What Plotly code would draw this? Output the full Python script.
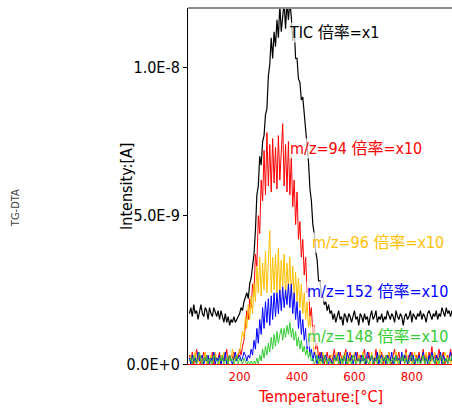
import plotly.graph_objects as go

# Temperature grid [°C], 5 °C steps
temperature = list(range(25, 945, 5))

# Ion currents in units of 1e-10 A (m/z traces already multiplied by 10)
tic = [
    17, 19, 16, 20, 17, 18, 15, 18, 20, 17, 16, 19, 18, 15, 19, 17, 16, 19, 17, 16,
    18, 15, 18, 16, 14, 17, 14, 16, 13, 15, 14, 16, 14, 15, 16, 17, 19, 18, 21, 23,
    24, 22, 27, 29, 34, 37, 45, 57, 60, 70, 67, 75, 77, 84, 86, 97, 101, 110, 103, 112,
    107, 116, 110, 121, 112, 119, 122, 113, 122, 116, 122, 117, 109, 114, 103, 103, 96, 95, 89, 90,
    84, 81, 73, 68, 59, 55, 47, 44, 38, 35, 28, 28, 23, 23, 20, 21, 18, 20, 17, 18,
    15, 17, 14, 16, 18, 15, 16, 13, 17, 16, 14, 17, 16, 14, 16, 18, 15, 16, 13, 17,
    16, 14, 17, 15, 16, 13, 16, 18, 15, 16, 18, 14, 16, 15, 17, 14, 16, 15, 18, 16,
    15, 17, 16, 14, 18, 16, 15, 17, 16, 13, 16, 17, 15, 16, 18, 14, 17, 16, 15, 17,
    16, 18, 15, 17, 16, 14, 17, 18, 16, 15, 17, 16, 18, 15, 17, 16, 19, 17, 16, 19,
    17, 18, 16, 18,
]
mz94 = [
    3, 1, 4, 0, 2, 5, 1, 3, 0, 2, 4, 1, 3, 0, 2, 1, 4, 0, 3, 1,
    2, 4, 0, 3, 1, 2, 5, 0, 3, 1, 2, 4, 1, 3, 2, 5, 3, 6, 8, 13,
    18, 15, 22, 19, 27, 24, 37, 33, 50, 44, 62, 55, 72, 57, 78, 60, 74, 58, 76, 61,
    73, 59, 77, 62, 72, 81, 60, 74, 58, 75, 57, 70, 53, 62, 47, 58, 42, 48, 36, 42,
    30, 36, 24, 26, 16, 19, 10, 13, 5, 7, 2, 4, 1, 3, 0, 2, 4, 1, 3, 0,
    2, 5, 1, 3, 0, 4, 2, 1, 3, 5, 0, 2, 4, 1, 3, 2, 0, 4, 1, 3,
    1, 3, 5, 0, 2, 4, 1, 3, 2, 0, 5, 1, 3, 2, 4, 0, 2, 3, 1, 4,
    2, 0, 3, 5, 1, 2, 4, 0, 3, 1, 2, 5, 0, 3, 1, 4, 2, 0, 3, 1,
    4, 1, 2, 5, 0, 3, 1, 4, 2, 6, 1, 3, 0, 2, 5, 1, 3, 4, 0, 2,
    3, 1, 5, 2,
]
mz96 = [
    1, 3, 0, 2, 4, 1, 2, 0, 3, 1, 2, 4, 0, 2, 1, 3, 0, 2, 4, 1,
    2, 0, 3, 1, 4, 2, 0, 3, 1, 2, 5, 1, 3, 2, 4, 4, 7, 11, 9, 16,
    12, 20, 15, 23, 17, 27, 21, 33, 24, 36, 23, 34, 25, 38, 24, 33, 45, 24, 36, 25,
    37, 24, 39, 23, 35, 26, 37, 22, 34, 25, 36, 23, 33, 22, 31, 21, 29, 19, 27, 17,
    24, 15, 21, 12, 16, 7, 9, 3, 4, 1, 3, 0, 2, 4, 1, 3, 0, 2, 1, 3,
    3, 0, 2, 4, 1, 2, 0, 3, 1, 4, 2, 0, 3, 1, 2, 4, 0, 2, 3, 1,
    2, 4, 0, 1, 3, 2, 0, 4, 1, 2, 3, 0, 2, 5, 1, 3, 0, 2, 1, 4,
    0, 2, 3, 1, 4, 0, 2, 1, 3, 2, 0, 4, 1, 2, 3, 0, 2, 4, 1, 3,
    2, 0, 3, 1, 2, 4, 1, 3, 0, 2, 1, 4, 2, 0, 3, 1, 2, 0, 4, 2,
    1, 3, 0, 2,
]
mz152 = [
    2, 0, 3, 1, 2, 0, 4, 1, 2, 3, 0, 2, 1, 3, 0, 2, 1, 4, 0, 2,
    1, 3, 0, 2, 1, 4, 0, 2, 3, 1, 0, 2, 4, 1, 2, 3, 1, 2, 4, 3,
    1, 3, 2, 5, 3, 8, 5, 12, 7, 15, 10, 19, 12, 21, 14, 22, 13, 23, 15, 24,
    16, 24, 17, 25, 18, 26, 19, 25, 20, 27, 19, 27, 17, 24, 15, 21, 12, 18, 10, 15,
    8, 12, 5, 9, 3, 5, 1, 4, 2, 0, 3, 1, 4, 0, 2, 3, 1, 0, 2, 1,
    0, 3, 1, 2, 4, 0, 2, 1, 3, 0, 4, 2, 1, 3, 0, 2, 4, 1, 2, 0,
    3, 1, 2, 0, 4, 2, 1, 3, 0, 2, 1, 4, 0, 2, 3, 1, 2, 0, 3, 2,
    1, 4, 0, 2, 3, 1, 2, 0, 4, 1, 3, 2, 0, 2, 4, 1, 3, 0, 2, 1,
    3, 0, 2, 4, 1, 2, 0, 3, 1, 4, 2, 0, 3, 1, 2, 4, 0, 3, 1, 2,
    0, 2, 4, 1,
]
mz148 = [
    1, 2, 0, 3, 1, 0, 2, 4, 1, 0, 2, 1, 3, 0, 2, 1, 0, 3, 2, 1,
    0, 2, 1, 3, 0, 1, 2, 0, 3, 1, 2, 0, 1, 3, 0, 2, 1, 0, 2, 1,
    0, 1, 0, 1, 0, 1, 0, 2, 0, 3, 1, 5, 2, 6, 3, 7, 4, 9, 5, 10,
    6, 11, 7, 10, 12, 8, 12, 9, 13, 10, 14, 9, 12, 8, 11, 6, 9, 5, 8, 4,
    6, 3, 5, 2, 4, 1, 2, 0, 1, 3, 0, 2, 1, 0, 3, 1, 0, 2, 1, 0,
    0, 2, 1, 3, 0, 1, 2, 0, 3, 1, 0, 2, 1, 0, 3, 2, 0, 1, 2, 0,
    1, 3, 0, 2, 1, 0, 2, 3, 0, 1, 2, 0, 3, 1, 0, 2, 1, 3, 0, 2,
    0, 1, 2, 0, 3, 1, 0, 2, 1, 3, 0, 2, 1, 0, 2, 3, 0, 1, 2, 0,
    2, 0, 1, 3, 0, 2, 1, 0, 2, 3, 1, 0, 2, 1, 0, 3, 2, 0, 1, 2,
    0, 2, 1, 3,
]

series_names = ["TIC", "m/z=94", "m/z=96", "m/z=152", "m/z=148"]
series_values = [tic, mz94, mz96, mz152, mz148]
series_colors = ["#000000", "#FF0000", "#FFC000", "#0000FF", "#33CC33"]
series_widths = [1.2, 1, 1, 1, 1]
series_labels = ["TIC 倍率=x1", "m/z=94 倍率=x10", "m/z=96 倍率=x10",
                 "m/z=152 倍率=x10", "m/z=148 倍率=x10"]
# label anchor (left edge temperature, intensity in A)
label_x = [368, 372, 449, 431, 431]
label_y = [11.16e-9, 7.25e-9, 4.11e-9, 2.43e-9, 0.94e-9]

y_ticks = [0.0, 5.0e-9, 1.0e-8]
x_ticks = [200, 400, 600, 800]
UNIT = 1e-10


def sci_label(v):
    if v == 0:
        return "0.0E+0"
    mant, exp = f"{v:.1E}".split("E")
    return f"{mant}E{int(exp)}"


LATIN = "'DejaVu Sans Condensed', 'DejaVu Sans', sans-serif"
MIXED = "'DejaVu Sans Condensed', 'DejaVu Sans', 'Noto Sans CJK JP', sans-serif"

fig = go.Figure()
for name, vals, col, w in zip(series_names, series_values, series_colors, series_widths):
    fig.add_trace(go.Scatter(
        x=temperature, y=[v * UNIT for v in vals], mode="lines", name=name,
        line=dict(color=col, width=w), hoverinfo="skip",
    ))

annotations = []
for text, col, lx, ly in zip(series_labels, series_colors, label_x, label_y):
    annotations.append(dict(
        x=lx, y=ly, xref="x", yref="y", text=text, showarrow=False,
        xanchor="left", yanchor="middle",
        font=dict(family=MIXED, size=16, color=col),
        bgcolor="rgba(255,255,255,0.7)", borderpad=0,
    ))

annotations += [
    dict(x=-0.235, y=0.5, xref="paper", yref="paper", text="Intensity:[A]",
         textangle=-90, showarrow=False, xanchor="center", yanchor="middle",
         font=dict(family=LATIN, size=16, color="#000000")),
    dict(x=0.5, y=-0.09, xref="paper", yref="paper", text="Temperature:[°C]",
         showarrow=False, xanchor="center", yanchor="middle",
         font=dict(family=LATIN, size=16, color="#FF0000")),
    dict(x=-0.655, y=0.438, xref="paper", yref="paper", text="TG-DTA",
         textangle=-90, showarrow=False, xanchor="center", yanchor="middle",
         font=dict(family=LATIN, size=11, color="#404040")),
]

fig.update_layout(
    width=452, height=408,
    margin=dict(l=188, r=0, t=8, b=44),
    paper_bgcolor="white", plot_bgcolor="white",
    showlegend=False,
    annotations=annotations,
    shapes=[dict(type="line", xref="paper", yref="paper", x0=0, x1=1, y0=1, y1=1,
                 line=dict(color="#8C8C8C", width=2))],
)
fig.update_xaxes(
    range=[20, 940], tickvals=x_ticks, ticktext=[str(t) for t in x_ticks],
    showgrid=False, zeroline=False, showline=True, linecolor="#FF0000", linewidth=1,
    ticks="", tickfont=dict(family=LATIN, size=13, color="#FF0000"),
)
fig.update_yaxes(
    range=[0, 1.2e-8], tickvals=y_ticks, ticktext=[sci_label(v) for v in y_ticks],
    showgrid=False, zeroline=False, showline=True, linecolor="#000000", linewidth=1,
    ticks="outside", ticklen=4, tickcolor="#000000",
    tickfont=dict(family=LATIN, size=16, color="#000000"),
)

fig.write_html("out.html")
